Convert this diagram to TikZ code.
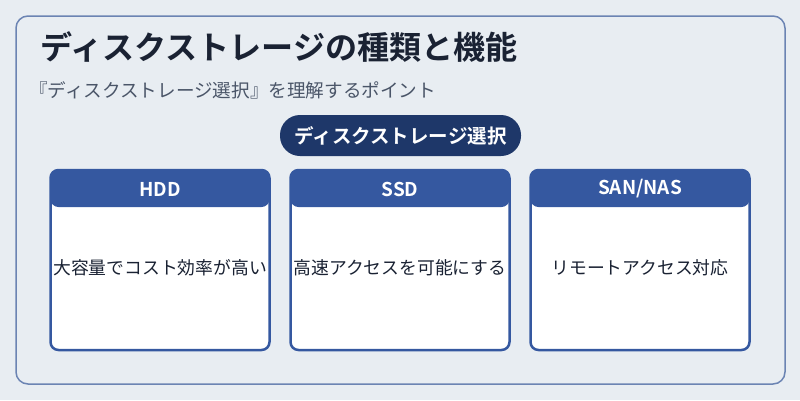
\documentclass[tikz,border=0pt]{standalone}
\usepackage{fontspec}
\setmainfont{Noto Sans CJK JP}[BoldFont={* Bold}]
\definecolor{bgc}{HTML}{E8EDF2}
\definecolor{framec}{HTML}{6B84B3}
\definecolor{pillc}{HTML}{1E3769}
\definecolor{hdrc}{HTML}{3558A0}
\definecolor{titlec}{HTML}{1A2233}
\definecolor{subc}{HTML}{4A5568}
\tikzset{
  frame/.style={draw=framec, line width=1.5pt, rounded corners=12pt, minimum width=769pt, minimum height=368pt, inner sep=0pt},
  pill/.style={fill=pillc, rounded corners=20pt, minimum width=241pt, minimum height=41pt, inner sep=0pt, text=white, font=\fontsize{19.5}{22}\selectfont\bfseries},
  card/.style={draw=hdrc, line width=2.5pt, fill=white, rounded corners=8pt, minimum width=219pt, minimum height=180pt, inner sep=0pt,
    path picture={\fill[hdrc] (path picture bounding box.north west) rectangle ([yshift=-37pt]path picture bounding box.north east);}},
  hdrtext/.style={text=white, font=\fontsize{19}{22}\selectfont\bfseries, inner sep=0pt},
  bodytext/.style={text=titlec, font=\fontsize{17.8}{20}\selectfont, inner sep=0pt},
}
\begin{document}
\begin{tikzpicture}[x=1pt,y=-1pt]
\fill[bgc] (0,0) rectangle (800,400);
\useasboundingbox (0,0) rectangle (800,400);
\node[frame] (outer) at (400.5,200) {};
\node[anchor=west, inner sep=0pt, text=titlec, font=\fontsize{32.1}{36}\selectfont\bfseries] (title) at (40,47) {ディスクストレージの種類と機能};
\node[anchor=west, inner sep=0pt, text=subc, font=\fontsize{18.6}{21}\selectfont] (sub) at (29,90) {『ディスクストレージ選択』を理解するポイント};
\node[pill] (pill) at (400.5,135.5) {ディスクストレージ選択};
\node[card] (hdd) at (160,260) {};
\node[card] (ssd) at (400,260) {};
\node[card] (san) at (640,260) {};
\node[hdrtext] (hddh) at (160,189) {HDD};
\node[hdrtext] (ssdh) at (400,189) {SSD};
\node[hdrtext] (sanh) at (640,189) {SAN/NAS};
\node[bodytext] (hddb) at (160,268) {大容量でコスト効率が高い};
\node[bodytext] (ssdb) at (400,268) {高速アクセスを可能にする};
\node[bodytext] (sanb) at (640,268) {リモートアクセス対応};
\end{tikzpicture}
\end{document}
